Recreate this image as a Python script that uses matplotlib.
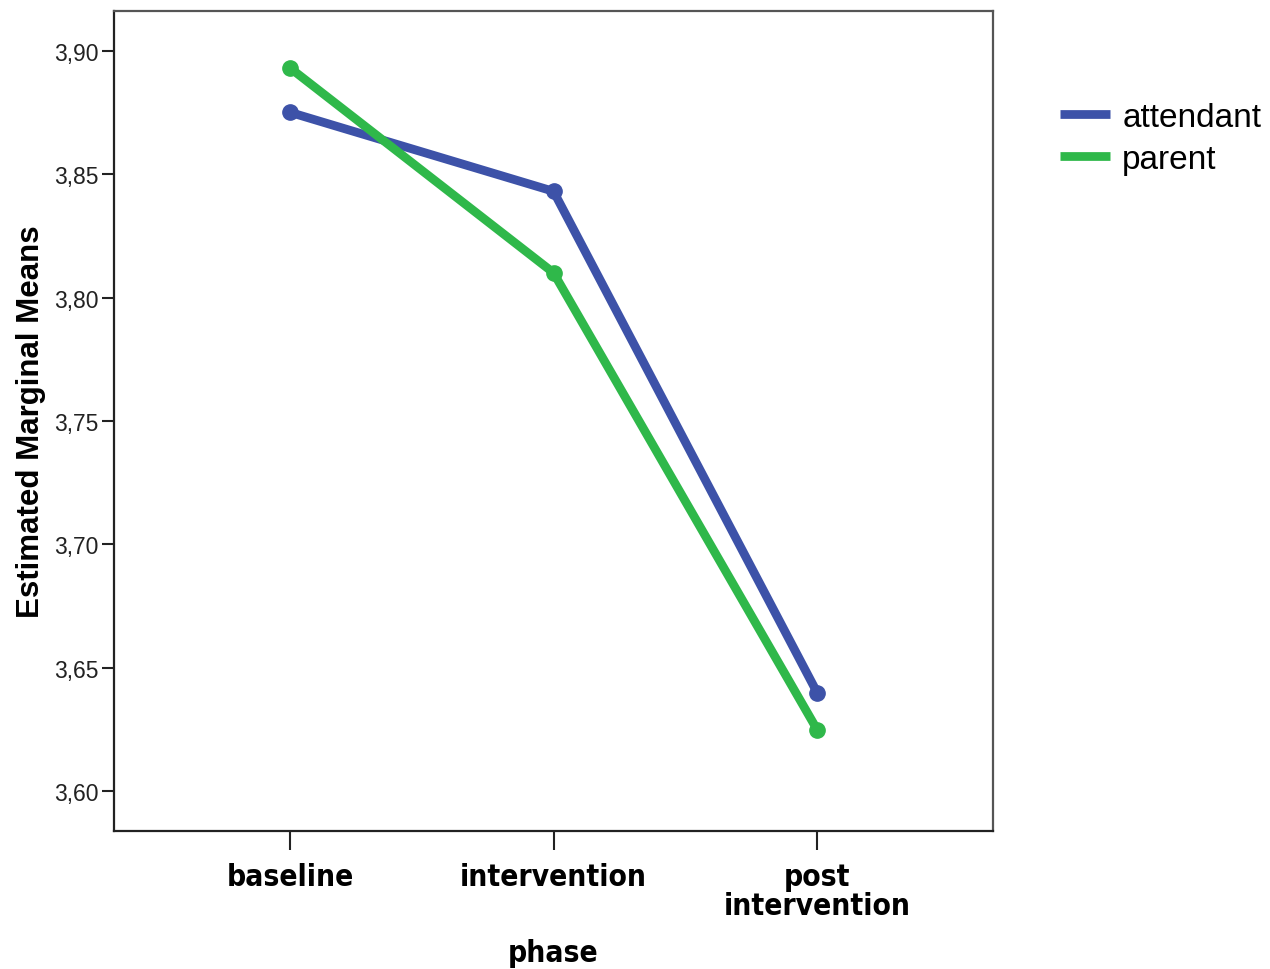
import matplotlib
matplotlib.use('Agg')
import matplotlib.pyplot as plt

# estimated marginal means
phases = ['baseline', 'intervention', 'post\nintervention']
attendant = [3.875, 3.843, 3.640]
parent = [3.893, 3.810, 3.625]
y_ticks = [3.60, 3.65, 3.70, 3.75, 3.80, 3.85, 3.90]

fig = plt.figure(figsize=(12.7, 9.7), dpi=100)
ax = fig.add_axes([0.0898, 0.1423, 0.6921, 0.8453])

x = range(len(phases))
ax.plot(x, attendant, color='#3d52a8', lw=6.3, marker='o', ms=11, label='attendant',
        solid_capstyle='round')
ax.plot(x, parent, color='#2fb84a', lw=6.3, marker='o', ms=11, label='parent',
        solid_capstyle='round')

ax.set_xlim(-0.667, 2.667)
ax.set_ylim(3.584, 3.916)
ax.set_xticks(list(x))
ax.set_xticklabels(phases, fontsize=21.5, fontweight='bold', family='DejaVu Sans',
                   fontstretch='condensed', linespacing=1.0)
ax.set_yticks(y_ticks)
ax.set_yticklabels([f'{v:.2f}'.replace('.', ',') for v in y_ticks],
                   fontsize=16.5, family='Liberation Sans', color='#222222')

ax.tick_params(axis='x', length=14, width=1.5, pad=8, color='#222222')
ax.tick_params(axis='y', length=9, width=1.5, pad=2, color='#222222')

for side in ['left', 'bottom']:
    ax.spines[side].set_color('#222222')
    ax.spines[side].set_linewidth(1.6)
for side in ['top', 'right']:
    ax.spines[side].set_color('#555555')
    ax.spines[side].set_linewidth(1.6)

ax.set_xlabel('phase', fontsize=21.5, fontweight='bold', family='DejaVu Sans',
              fontstretch='condensed', labelpad=13)
ax.set_ylabel('Estimated Marginal Means', fontsize=22.5, fontweight='bold',
              family='Liberation Sans', labelpad=6)

leg = ax.legend(loc='upper left', bbox_to_anchor=(1.0765, 0.889), frameon=False,
                borderpad=0, borderaxespad=0,
                handlelength=1.5, handletextpad=0.36, labelspacing=0.32,
                prop={'family': 'Liberation Sans', 'size': 24})
for line in leg.get_lines():
    line.set_marker('')
    line.set_solid_capstyle('butt')

fig.savefig('out.png', dpi=100, facecolor='white')
